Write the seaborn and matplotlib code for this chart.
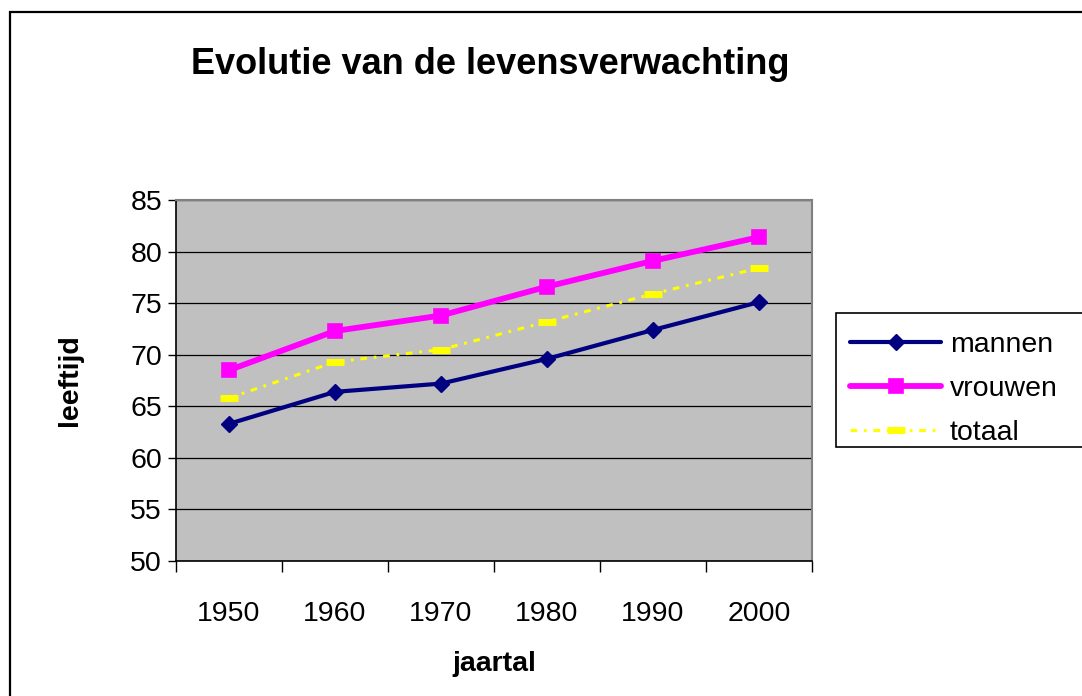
import numpy as np
import pandas as pd
import matplotlib
matplotlib.use("Agg")
import matplotlib.pyplot as plt
from matplotlib.patches import Rectangle
from matplotlib.ticker import FixedLocator, NullFormatter
import seaborn as sns

# ---- data ----
years = ["1950", "1960", "1970", "1980", "1990", "2000"]
mannen = [63.3, 66.4, 67.2, 69.6, 72.4, 75.1]
vrouwen = [68.5, 72.3, 73.8, 76.6, 79.1, 81.4]
totaal = [65.8, 69.3, 70.5, 73.2, 75.9, 78.4]
yticks = [50, 55, 60, 65, 70, 75, 80, 85]

sns.set_style("white")
plt.rcParams["font.family"] = ["Liberation Sans", "DejaVu Sans"]
plt.rcParams["text.color"] = "black"
plt.rcParams["axes.labelcolor"] = "black"
plt.rcParams["xtick.color"] = "black"
plt.rcParams["ytick.color"] = "black"

fig = plt.figure(figsize=(10.82, 6.96), dpi=100)
ax = fig.add_axes([176 / 1082, 135 / 696, 636 / 1082, 361 / 696])
ax.set_facecolor("#C0C0C0")

pos = np.arange(len(years))
df = pd.DataFrame({"pos": pos, "jaartal": years,
                   "mannen": mannen, "vrouwen": vrouwen, "totaal": totaal})

sns.lineplot(data=df, x="pos", y="mannen", ax=ax, color="#000080",
             linewidth=3.0, marker="D", markersize=8, markeredgewidth=1,
             markeredgecolor="#000080", label="mannen", legend=False)
sns.lineplot(data=df, x="pos", y="vrouwen", ax=ax, color="#FF00FF",
             linewidth=4.2, marker="s", markersize=10, markeredgewidth=1.2,
             markeredgecolor="#FF00FF", label="vrouwen", legend=False)
sns.lineplot(data=df, x="pos", y="totaal", ax=ax, color="#FFFF00",
             linewidth=2.2, linestyle=(0, (2.2, 2.2, 0.9, 2.2)), marker="_",
             markersize=13.5, markeredgewidth=5, markeredgecolor="#FFFF00",
             label="totaal", legend=False)

ax.set_xlim(-0.5, len(years) - 0.5)
ax.set_ylim(50, 85)
ax.set_yticks(yticks)
ax.set_yticklabels([str(v) for v in yticks])
ax.yaxis.grid(True, color="black", linewidth=0.9)
ax.xaxis.grid(False)
ax.set_axisbelow(True)

ax.set_xticks(pos)
ax.set_xticklabels(years)
ax.xaxis.set_minor_locator(FixedLocator(np.arange(-0.5, len(years), 1.0)))
ax.xaxis.set_minor_formatter(NullFormatter())
ax.tick_params(axis="x", which="major", length=0, pad=29, labelsize=20.5)
ax.tick_params(axis="x", which="minor", length=8, width=1, color="black",
               direction="out", bottom=True)
ax.tick_params(axis="y", which="major", length=6, width=1, color="black",
               direction="out", left=True, pad=4, labelsize=20.5)

for s in ["left", "bottom"]:
    ax.spines[s].set_color("black")
    ax.spines[s].set_linewidth(1.2)
for s in ["top", "right"]:
    ax.spines[s].set_color("#808080")
    ax.spines[s].set_linewidth(1.5)

ax.set_xlabel("jaartal", fontsize=20.5, fontweight="bold", labelpad=17)
ax.set_ylabel("leeftijd", fontsize=20.5, fontweight="bold", labelpad=34)

fig.text(490 / 1082, 1 - 64 / 696, "Evolutie van de levensverwachting",
         ha="center", va="center", fontsize=26, fontweight="bold")

leg = ax.legend(loc="upper left", bbox_to_anchor=(836 / 1082, 1 - 318 / 696),
                bbox_transform=fig.transFigure, fontsize=20.5, frameon=False,
                borderaxespad=0, borderpad=0.5, labelspacing=0.62,
                handlelength=3.2, handletextpad=0.3)

# legend frame (extends past the right edge, as in the reference)
frame = Rectangle((836 / 1082, 1 - 447 / 696), 0.3, 134 / 696,
                  transform=fig.transFigure, facecolor="white",
                  edgecolor="black", linewidth=1.2, zorder=-1)
fig.patches.append(frame)

# outer chart border (extends past right/bottom of the image)
fig.patches.append(Rectangle((10 / 1082, -0.1), 1.2, 1 - 12 / 696 + 0.1,
                             transform=fig.transFigure, fill=False,
                             edgecolor="black", linewidth=1.6, clip_on=False,
                             zorder=-1))

fig.savefig("out.png", dpi=100)
